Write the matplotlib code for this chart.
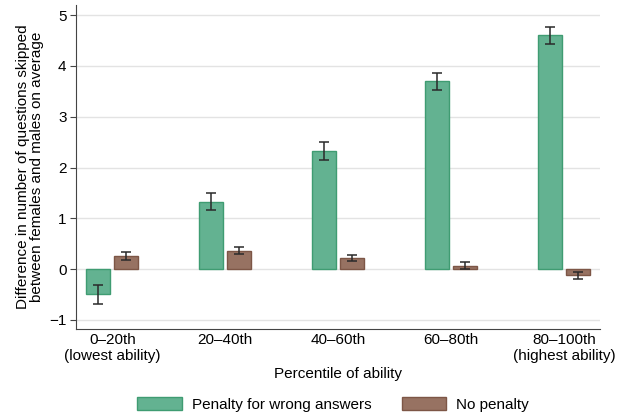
import numpy as np
import matplotlib
matplotlib.use("Agg")
import matplotlib.pyplot as plt

plt.rcParams['font.family'] = ['Liberation Sans', 'DejaVu Sans']

groups = ['0\u201320th\n(lowest ability)', '20\u201340th', '40\u201360th',
          '60\u201380th', '80\u2013100th\n(highest ability)']
penalty = [-0.50, 1.33, 2.32, 3.70, 4.60]
penalty_lo = [-0.68, 1.17, 2.15, 3.53, 4.44]
penalty_hi = [-0.31, 1.50, 2.50, 3.86, 4.76]
nopen = [0.26, 0.36, 0.21, 0.07, -0.12]
nopen_lo = [0.18, 0.29, 0.15, 0.01, -0.19]
nopen_hi = [0.34, 0.43, 0.28, 0.14, -0.06]

fig = plt.figure(figsize=(6.25, 4.17), dpi=100)
ax = fig.add_axes([0.122, 0.211, 0.838, 0.777])

x = np.arange(len(groups))
w = 0.212
off = 0.124

def errs(v, lo, hi):
    v = np.array(v); return [v - np.array(lo), np.array(hi) - v]

ax.bar(x - off, penalty, w, color='#63b291', edgecolor='#3f9c72', linewidth=1,
       label='Penalty for wrong answers', zorder=2)
ax.bar(x + off, nopen, w, color='#977262', edgecolor='#7d5646', linewidth=1,
       label='No penalty', zorder=2)
ax.errorbar(x - off, penalty, yerr=errs(penalty, penalty_lo, penalty_hi), fmt='none',
            ecolor='#2a2a2a', elinewidth=1.1, capsize=3.5, capthick=1.1, zorder=3)
ax.errorbar(x + off, nopen, yerr=errs(nopen, nopen_lo, nopen_hi), fmt='none',
            ecolor='#2a2a2a', elinewidth=1.1, capsize=3.5, capthick=1.1, zorder=3)

ax.set_xlim(-0.32, 4.32)
ax.set_ylim(-1.18, 5.2)
ax.set_yticks([-1, 0, 1, 2, 3, 4, 5])
ax.set_yticklabels(['\u22121', '0', '1', '2', '3', '4', '5'])
ax.set_xticks(x)
ax.set_xticklabels(groups, linespacing=1.15)
ax.tick_params(axis='x', length=0, pad=3, labelsize=11)
ax.tick_params(axis='y', length=4, labelsize=11, color='#444444', pad=3)
ax.grid(axis='y', color='#e3e3e3', linewidth=1, zorder=0)
ax.set_axisbelow(True)
for s in ['top', 'right']:
    ax.spines[s].set_visible(False)
for s in ['left', 'bottom']:
    ax.spines[s].set_color('#444444')

ax.set_ylabel('Difference in number of questions skipped\nbetween females and males on average',
              fontsize=11, linespacing=1.0, labelpad=4)
ax.set_xlabel('Percentile of ability', fontsize=11, labelpad=3)

fig.legend(loc='center', ncol=2, frameon=False, fontsize=11,
           bbox_to_anchor=(0.533, 0.031), handlelength=2.9, handleheight=1.0,
           columnspacing=2.0, handletextpad=0.65)

fig.savefig('out.png', dpi=100)
